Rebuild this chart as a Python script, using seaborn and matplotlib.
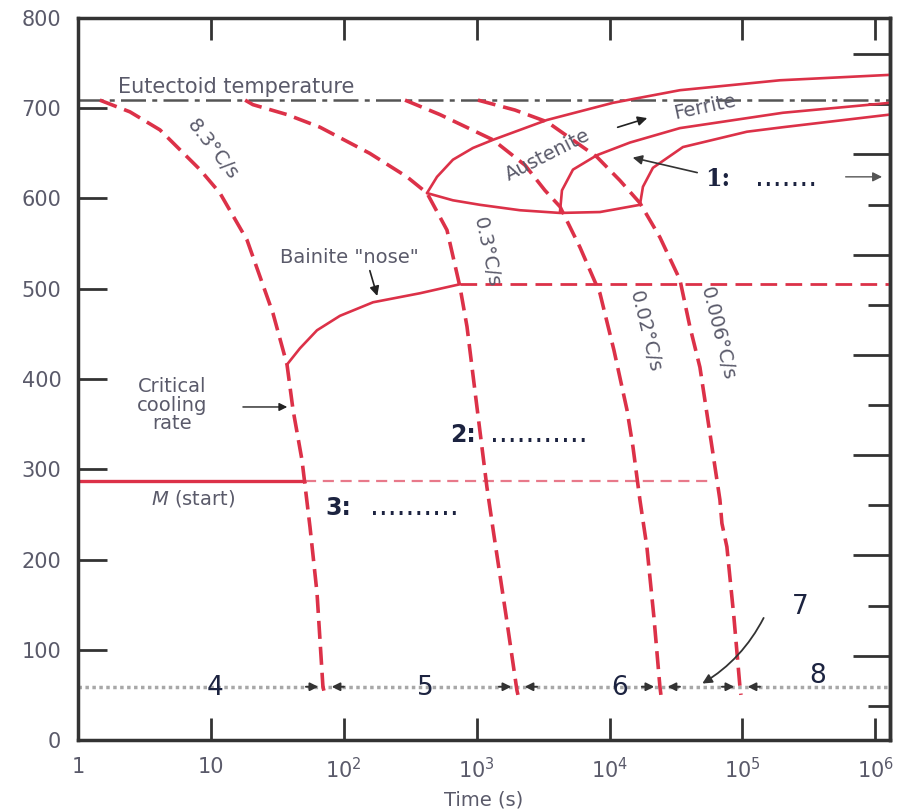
import matplotlib
matplotlib.use("Agg")
import matplotlib.pyplot as plt
import seaborn as sns
import numpy as np
import pandas as pd

# ---------------- data ----------------
# cooling curves (time in s, temperature in degC)
crit_t = [1.46, 2.46, 4.14, 8.28, 11.7, 18.7, 29.3, 37.4, 41.5, 48.5, 55.7, 62.9, 69.7, 72.2]
crit_T = [709, 696, 676, 632, 606, 554, 473, 416, 366, 310, 236, 163, 59, 50]

b_t = [18.1, 20.7, 37.4, 66.2, 157, 299, 423, 598, 749, 846, 1005, 1195, 1349, 1660, 2010, 2046]
b_T = [709, 704, 693, 679, 650, 624, 606, 565, 502, 458, 369, 280, 227, 139, 55, 50]

c_t = [289, 529, 1327, 2310, 3265, 4236, 5989, 8467, 10790, 13520, 15000, 16930, 19100, 21580, 23940, 24360]
c_T = [709, 693, 665, 637, 609, 591, 546, 495, 432, 366, 325, 266, 214, 136, 59, 50]

d_t = [1023, 1942, 3381, 8040, 11970, 16930, 23940, 33860, 40240, 47880, 56910, 67720, 70100, 76400, 86300, 95800, 97500]
d_T = [709, 698, 685, 646, 620, 595, 557, 510, 458, 413, 340, 266, 240, 214, 136, 59, 50]

# transformation curves (solid)
start_up_t = [423, 503, 663, 938, 1327, 3381, 10600, 33860, 191500, 1.29e6]
start_up_T = [606, 624, 643, 656, 665, 687, 706, 720, 731, 737]
start_low_t = [423, 663, 1059, 2117, 4236, 8467, 16930]
start_low_T = [606, 598, 593, 587, 584, 585, 593]
mid_t = [4236, 4385, 5305, 8040, 14250, 33860, 201800, 1.29e6]
mid_T = [585, 609, 632, 648, 662, 678, 695, 706]
fin_t = [16930, 17840, 21210, 35670, 108100, 201800, 1.29e6]
fin_T = [593, 613, 634, 657, 674, 679, 693]

bain_t = [37.4, 46.8, 62.9, 93.6, 166, 374, 749]
bain_T = [416, 434, 454, 470, 485, 495, 505]
bain_dash_t = [749, 1.29e6]
bain_dash_T = [505, 505]

eutectoid_T = 709
ms_T = 287
ms_solid_t = [1, 51]
ms_dash_t = [51, 58000]
ref_T = 59
x_span = [1, 1.29e6]

curve_end_t = [72.2, 2046, 24360, 97500]

xtick_vals = [1, 10, 100, 1000, 1e4, 1e5, 1e6]
xtick_labels = ["1", "10", "$10^2$", "$10^3$", "$10^4$", "$10^5$", "$10^6$"]
ytick_vals = [0, 100, 200, 300, 400, 500, 600, 700, 800]
rf_major = [200, 400, 600, 800, 1000, 1200, 1400]
rf_minor = [100, 300, 500, 700, 900, 1100, 1300]

# ---------------- figure ----------------
sns.set_theme(style="white")
plt.rcParams["font.family"] = ["DejaVu Sans"]

W, H = 904, 810
fig = plt.figure(figsize=(W / 100, H / 100), dpi=100)
ax = fig.add_axes([78 / W, 70 / H, 812 / W, 722 / H])
ax.set_xscale("log")
ax.set_xlim(1, 1.29e6)
ax.set_ylim(0, 800)

RED = "#dc3148"
TXT = "#5a5a6a"
NAVY = "#1c2340"


def curve(t, T, **kw):
    sns.lineplot(x=t, y=T, sort=False, estimator=None, ax=ax, legend=False, **kw)


# reference lines
curve(x_span, [eutectoid_T] * 2, color="#555555", lw=1.8, linestyle=(0, (10, 2.5, 2, 2.5)))
curve(x_span, [ref_T] * 2, color="#a8a8a8", lw=2.5, linestyle=(0, (1, 1)))

# transformation curves
for t, T in [(start_up_t, start_up_T), (start_low_t, start_low_T), (mid_t, mid_T), (fin_t, fin_T)]:
    curve(t, T, color=RED, lw=1.9)
curve(bain_t, bain_T, color=RED, lw=1.9)
curve(bain_dash_t, bain_dash_T, color=RED, lw=2.0, linestyle=(0, (6, 3)))
curve(ms_solid_t, [ms_T] * 2, color=RED, lw=2.4)
curve(ms_dash_t, [ms_T] * 2, color="#e8798a", lw=1.6, linestyle=(0, (5, 3)))

# cooling curves
for t, T in [(crit_t, crit_T), (b_t, b_T), (c_t, c_T), (d_t, d_T)]:
    curve(t, T, color=RED, lw=2.6, linestyle=(0, (5, 2.2)))

# ---------------- axes styling ----------------
for s in ax.spines.values():
    s.set_color("#333333")
    s.set_linewidth(2.5)
ax.xaxis.set_minor_locator(matplotlib.ticker.NullLocator())
ax.set_xticks(xtick_vals)
ax.set_xticklabels(xtick_labels)
ax.set_yticks(ytick_vals)
ax.tick_params(axis="x", which="both", direction="in", length=16, width=2, top=True,
               bottom=True, color="#333333", labelsize=15, labelcolor=TXT, pad=12)
ax.tick_params(axis="y", which="both", direction="in", length=21, width=2, left=True,
               right=False, color="#333333", labelsize=15, labelcolor=TXT, pad=12)
ax.set_xlabel("Time (s)", fontsize=14, color=TXT, labelpad=6)
ax.set_ylabel("")

sec = ax.secondary_yaxis("right", functions=(lambda c: c * 9 / 5 + 32, lambda f: (f - 32) * 5 / 9))
sec.set_yticks(rf_major)
sec.set_yticks(rf_minor, minor=True)
sec.tick_params(which="major", direction="in", length=27, width=2, color="#333333", labelright=False)
sec.tick_params(which="minor", direction="in", length=16, width=2, color="#333333", labelright=False)
sec.spines["right"].set_color("#333333")
sec.spines["right"].set_linewidth(2.5)

# ---------------- annotations ----------------
ax.text(2.0, 723, "Eutectoid temperature", fontsize=15, color=TXT, ha="left", va="center")
ax.text(10.2, 654, "8.3°C/s", fontsize=14, color=TXT, rotation=-52, ha="center", va="center")
ax.text(3437, 648, "Austenite", fontsize=14, color=TXT, rotation=27, ha="center", va="center")
ax.annotate("", xy=(20130, 690), xytext=(10990, 678),
            arrowprops=dict(arrowstyle="-|>", color="#222222", lw=1.2, mutation_scale=14))
ax.text(52200, 701, "Ferrite", fontsize=14, color=TXT, rotation=12, ha="center", va="center")
ax.text(111, 535, "Bainite \"nose\"", fontsize=14, color=TXT, ha="center", va="center")
ax.annotate("", xy=(181, 489), xytext=(155, 523),
            arrowprops=dict(arrowstyle="-|>", color="#222222", lw=1.2, mutation_scale=14))
ax.text(1195, 540, "0.3°C/s", fontsize=14, color=TXT, rotation=-78, ha="center", va="center")
ax.text(18470, 452, "0.02°C/s", fontsize=14, color=TXT, rotation=-76, ha="center", va="center")
ax.text(65400, 450, "0.006°C/s", fontsize=14, color=TXT, rotation=-76, ha="center", va="center")
ax.text(5.1, 371, "Critical\ncooling\nrate", fontsize=14, color=TXT, ha="center", va="center",
        linespacing=0.95)
ax.annotate("", xy=(39.4, 369), xytext=(16.6, 369),
            arrowprops=dict(arrowstyle="-|>", color="#222222", lw=1.0, mutation_scale=12))
ax.text(7.33, 268, r"$\it{M}$ (start)", fontsize=14, color=TXT, ha="center", va="center")

# numbered blanks
ax.text(52200, 614, "1:", fontsize=17, color=NAVY, fontweight="bold", family="DejaVu Serif",
        ha="left", va="baseline")
ax.text(124000, 614, ".......", fontsize=20, color=NAVY, ha="left", va="baseline")
ax.annotate("", xy=(14250, 646), xytext=(47880, 628),
            arrowprops=dict(arrowstyle="-|>", color="#333333", lw=1.2, mutation_scale=14))
ax.annotate("", xy=(1.18e6, 624), xytext=(570000, 624),
            arrowprops=dict(arrowstyle="-|>", color="#555555", lw=1.0, mutation_scale=14))
ax.text(630, 330, "2:", fontsize=17, color=NAVY, fontweight="bold", ha="left", va="baseline")
ax.text(1259, 330, "...........", fontsize=20, color=NAVY, ha="left", va="baseline")
ax.text(72.2, 249, "3:", fontsize=17, color=NAVY, fontweight="bold", ha="left", va="baseline")
ax.text(157, 249, "..........", fontsize=20, color=NAVY, ha="left", va="baseline")

for lab, tx, ty in [("4", 10.7, 58), ("5", 408, 58), ("6", 11970, 58), ("8", 370000, 71), ("7", 271000, 147)]:
    ax.text(tx, ty, lab, fontsize=19, color=NAVY, ha="center", va="center")
ax.annotate("", xy=(47880, 61), xytext=(147600, 138),
            arrowprops=dict(arrowstyle="-|>", color="#333333", lw=1.3, mutation_scale=14,
                            connectionstyle="arc3,rad=-0.15"))

# arrowheads pointing at the curve ends on the reference line
for te in curve_end_t:
    for f_far, f_near in [(1 / 1.46, 1 / 1.07), (1.46, 1.07)]:
        ax.annotate("", xy=(te * f_near, ref_T), xytext=(te * f_far, ref_T),
                    arrowprops=dict(arrowstyle="-|>", color="#333333", lw=1.4, mutation_scale=12))

fig.savefig("out.png", dpi=100)
